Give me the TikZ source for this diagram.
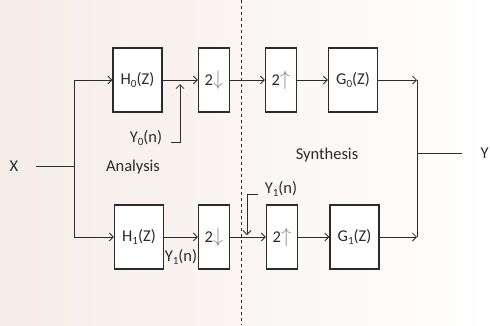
\documentclass[tikz,border=0pt]{standalone}
\usepackage{fontspec}
\setmainfont{Carlito}
\usetikzlibrary{arrows.meta, positioning}
\definecolor{paper}{HTML}{F5ECE7}
\definecolor{ink}{HTML}{2B2B2B}
\definecolor{pale}{HTML}{8A8A8A}

\newcommand{\sub}[1]{\raisebox{-3pt}{\fontsize{11}{11}\selectfont #1}}
\newcommand{\dnarr}{{\color{pale}\fontsize{22}{22}\selectfont$\downarrow$}}
\newcommand{\uparr}{{\color{pale}\fontsize{22}{22}\selectfont$\uparrow$}}

\begin{document}
\begin{tikzpicture}[
    x=1pt, y=-1pt,
    >={Straight Barb[length=4pt, width=8pt]},
    every node/.style={text=ink, font=\fontsize{16.5}{19}\selectfont},
    block/.style={draw=ink, line width=1.3pt, inner sep=0pt, fill=white},
    filt/.style={block, minimum width=49pt, minimum height=64pt},
    rate/.style={block, minimum width=31pt, minimum height=64pt},
    sig/.style={->, draw=ink, line width=0.8pt},
    wire/.style={draw=ink, line width=0.8pt},
  ]

  % ===== Page =====
  \useasboundingbox (0,0) rectangle (490,325);
  \shade[left color=paper, right color=white] (0,0) rectangle (490,325);

  % Divider between the two banks
  \draw[ink, dashed, line width=0.6pt] (241,0) -- (241,325);

  % ===== Analysis bank =====
  \node[filt] (h0) at (137.5,80) {H\sub{0}(Z)};
  \node[rate] (dn0) at (214,80) {2\dnarr};
  \node[filt] (h1) at (139,237) {H\sub{1}(Z)};
  \node[rate] (dn1) at (214,237) {2\dnarr};

  % ===== Synthesis bank =====
  \node[rate] (up0) at (281,80) {2\uparr};
  \node[filt] (g0) at (353,80) {G\sub{0}(Z)};
  \node[rate] (up1) at (282,237) {2\uparr};
  \node[filt] (g1) at (354.5,237) {G\sub{1}(Z)};

  % Input split
  \node (x) at (14,166) {X};
  \coordinate (split) at (74,166);
  \coordinate (fork0) at (74,80);
  \coordinate (fork1) at (74,237);
  \draw[wire, shorten <=14pt] (x.east) -- (split);
  \draw[wire] (fork0) -- (fork1);
  \draw[sig] (fork0) -- (h0);
  \draw[sig] (fork1) -- (h1);

  % Filter -> decimator -> expander -> filter
  \draw[sig] (h0) -- (dn0);
  \draw[sig] (dn0) -- (up0);
  \draw[sig] (up0) -- (g0);
  \draw[sig] (h1) -- (dn1);
  \draw[sig] (dn1) -- (up1);
  \draw[sig] (up1) -- (g1);

  % Output merge
  \coordinate (join0) at (417,80);
  \coordinate (join1) at (417,237);
  \coordinate (join) at (417,153);
  \node[anchor=west] (y) at (477,153) {Y};
  \draw[sig] (g0) -- (join0);
  \draw[sig] (g1) -- (join1);
  \draw[wire] (join0) -- (join1);
  \draw[wire, shorten >=15pt] (join) -- (y.west);

  % Signal labels
  \node (y0) at (146,138) {Y\sub{0}(n)};
  \coordinate (tap0) at (180,80);
  \draw[sig, shorten <=5pt, shorten >=4pt] ([yshift=-4pt]y0.east) -| (tap0);

  \node (y1low) at (181,257) {Y\sub{1}(n)};

  \node (y1up) at (281,189) {Y\sub{1}(n)};
  \coordinate (tap1) at (247,237);
  \draw[sig, shorten <=3pt, shorten >=2pt] ([yshift=-5pt]y1up.west) -| (tap1);

  % Bank titles
  \node (ana) at (133,167) {Analysis};
  \node (syn) at (327,155) {Synthesis};

\end{tikzpicture}
\end{document}
